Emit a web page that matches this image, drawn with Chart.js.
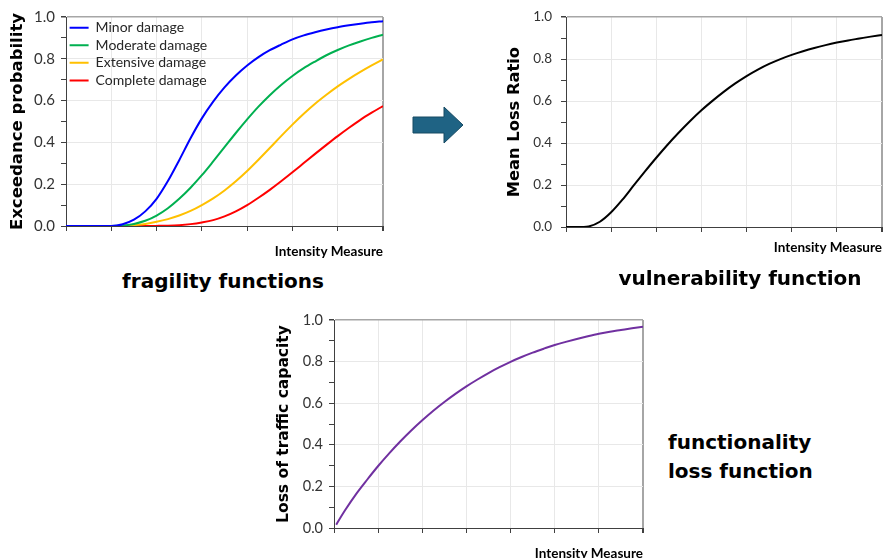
<!DOCTYPE html>
<html>
<head>
<meta charset="utf-8">
<script src="https://cdn.jsdelivr.net/npm/chart.js@4.4.0/dist/chart.umd.min.js"></script>
<style>
    body { margin: 0; width: 885px; height: 558px; overflow: hidden; background: #fff; position: relative; }
    canvas { position: absolute; }
    .cap { position: absolute; font: bold 20px "DejaVu Sans"; color: #000; white-space: nowrap; line-height: 29px; }
</style>
</head>
<body>
<canvas id="chart_1" width="400" height="265" style="left:0;top:0"></canvas>
<canvas id="chart_2" width="405" height="265" style="left:480px;top:0"></canvas>
<canvas id="chart_3" width="400" height="272" style="left:260px;top:300px"></canvas>

<svg style="position:absolute;left:410px;top:104px" width="56" height="42">
    <polygon points="3,13 34,13 34,3 53,21 34,39 34,29 3,29" fill="#1F6384" stroke="#174A63" stroke-width="1"/>
</svg>

<div class="cap" style="left:223px;top:267px;transform:translateX(-50%)">fragility functions</div>
<div class="cap" style="left:740px;top:264px;transform:translateX(-50%)">vulnerability function</div>
<div class="cap" style="left:668px;top:428px">functionality<br>loss function</div>

<script>
// Dados
const imSteps = [0, 0.25, 0.5, 0.75, 1, 1.25, 1.5, 1.75, 2, 2.25, 2.5, 2.75, 3, 3.25, 3.5, 3.75,
    4, 4.25, 4.5, 4.75, 5, 5.25, 5.5, 5.75, 6, 6.25, 6.5, 6.75, 7];

const minorDamage = [0, 0, 0, 0, 0, 0.008, 0.03, 0.07, 0.13, 0.215, 0.315, 0.42, 0.515, 0.595, 0.663, 0.72,
    0.768, 0.808, 0.841, 0.868, 0.893, 0.912, 0.927, 0.94, 0.951, 0.96, 0.968, 0.975, 0.98];
const moderateDamage = [0, 0, 0, 0, 0, 0.002, 0.01, 0.025, 0.05, 0.085, 0.13, 0.183, 0.243, 0.309, 0.377, 0.445,
    0.51, 0.571, 0.626, 0.675, 0.718, 0.755, 0.787, 0.817, 0.842, 0.864, 0.883, 0.9, 0.915];
const extensiveDamage = [0, 0, 0, 0, 0, 0.001, 0.004, 0.01, 0.02, 0.033, 0.05, 0.072, 0.1, 0.132, 0.17, 0.214,
    0.263, 0.317, 0.373, 0.43, 0.485, 0.537, 0.585, 0.628, 0.668, 0.704, 0.737, 0.768, 0.797];
const completeDamage = [0, 0, 0, 0, 0, 0, 0, 0, 0.0005, 0.0015, 0.004, 0.009, 0.017, 0.028, 0.046, 0.07,
    0.1, 0.135, 0.173, 0.214, 0.257, 0.301, 0.345, 0.388, 0.43, 0.47, 0.508, 0.542, 0.574];

const meanLossRatio = [0, 0, 0.003, 0.025, 0.07, 0.13, 0.198, 0.265, 0.33, 0.392, 0.45, 0.505, 0.556, 0.602, 0.645, 0.684,
    0.719, 0.75, 0.777, 0.8, 0.82, 0.8375, 0.853, 0.8665, 0.8785, 0.889, 0.898, 0.907, 0.915];

const funcIM = [0.05, 0.25, 0.5, 0.75, 1, 1.25, 1.5, 1.75, 2, 2.25, 2.5, 2.75, 3, 3.25, 3.5, 3.75,
    4, 4.25, 4.5, 4.75, 5, 5.25, 5.5, 5.75, 6, 6.25, 6.5, 6.75, 7];
const trafficLoss = [0.016, 0.085, 0.163, 0.232, 0.298, 0.359, 0.416, 0.469, 0.518, 0.564, 0.606, 0.645, 0.681, 0.714, 0.745, 0.773,
    0.799, 0.822, 0.843, 0.862, 0.88, 0.895, 0.909, 0.922, 0.934, 0.944, 0.952, 0.96, 0.967];

const yTicks = [0, 0.1, 0.2, 0.3, 0.4, 0.5, 0.6, 0.7, 0.8, 0.9, 1.0];
const xTicks = [0, 1, 2, 3, 4, 5, 6, 7];

function pts(xs, ys) {
    return xs.map((x, i) => ({ x: x, y: ys[i] }));
}

function serie(label, xs, ys, cor) {
    return {
        label: label,
        data: pts(xs, ys),
        borderColor: cor,
        backgroundColor: cor,
        borderWidth: 2,
        pointRadius: 0,
        cubicInterpolationMode: 'monotone'
    };
}

// escalas comuns aos três gráficos
function escalas(o) {
    return {
        x: {
            type: 'linear',
            min: xTicks[0],
            max: xTicks[xTicks.length - 1],
            afterBuildTicks: (s) => { s.ticks = xTicks.map(v => ({ value: v })); },
            ticks: { callback: () => '' },
            grid: {
                color: (c) => c.tick.value === 7 ? '#a6a6a6' : '#e8e8e8',
                lineWidth: (c) => c.tick.value === 7 ? 2 : 1,
                tickColor: '#404040',
                tickLength: 5
            },
            border: { color: '#404040', width: 1 },
            title: {
                display: true,
                text: 'Intensity Measure',
                align: 'end',
                color: '#000',
                font: { family: 'Lato', weight: 'bold', size: 13.5 },
                padding: { top: 0, bottom: o.xTitlePad }
            },
            afterFit: (s) => { s.height = o.xHeight; }
        },
        y: {
            min: 0,
            max: 1,
            afterBuildTicks: (s) => { s.ticks = yTicks.map(v => ({ value: v })); },
            ticks: {
                autoSkip: false,
                color: '#333',
                padding: o.tickPad,
                font: { family: 'Lato', size: o.tickSize },
                callback: (v) => Math.round(v * 10) % 2 === 0 ? v.toFixed(1) : ''
            },
            grid: {
                color: (c) => c.tick.value >= 0.999 ? '#a6a6a6' : (Math.round(c.tick.value * 10) % 2 === 0 ? '#e8e8e8' : 'rgba(0,0,0,0)'),
                lineWidth: (c) => c.tick.value >= 0.999 ? 1.5 : 1,
                tickColor: '#404040',
                tickLength: 5
            },
            border: { color: '#404040', width: 1 },
            title: {
                display: true,
                text: o.yTitle,
                color: '#000',
                font: { family: 'DejaVu Sans', weight: 'bold', size: o.yTitleSize },
                padding: { top: o.yTitlePad, bottom: 0 }
            },
            afterFit: (s) => { s.width = o.yWidth; }
        }
    };
}

// Gráfico 1 - fragility functions
const chart1 = new Chart(document.getElementById('chart_1').getContext('2d'), {
    type: 'line',
    data: {
        datasets: [
            serie('Minor damage', imSteps, minorDamage, '#0000FF'),
            serie('Moderate damage', imSteps, moderateDamage, '#00B050'),
            serie('Extensive damage', imSteps, extensiveDamage, '#FFC000'),
            serie('Complete damage', imSteps, completeDamage, '#FF0000')
        ]
    },
    options: {
        responsive: false,
        animation: false,
        layout: { padding: { top: 17, right: 17, left: 0, bottom: 0 } },
        plugins: {
            legend: {
                position: 'chartArea',
                align: 'start',
                // título vazio só para descer a legenda até o topo da área do gráfico
                title: { display: true, text: '', padding: 0, font: { size: 14.2 } },
                labels: {
                    boxWidth: 19,
                    boxHeight: 0,
                    padding: 3.6,
                    color: '#262626',
                    font: { family: 'Lato', size: 14 }
                }
            },
            tooltip: { enabled: false }
        },
        scales: escalas({
            xHeight: 39, xTitlePad: 4.8, yWidth: 66, tickPad: 6, tickSize: 15,
            yTitle: 'Exceedance probability', yTitleSize: 16.5, yTitlePad: 8
        })
    }
});

// Gráfico 2 - vulnerability function
const chart2 = new Chart(document.getElementById('chart_2').getContext('2d'), {
    type: 'line',
    data: {
        datasets: [serie('Mean Loss Ratio', imSteps, meanLossRatio, '#000000')]
    },
    options: {
        responsive: false,
        animation: false,
        layout: { padding: { top: 17, right: 0, left: 0, bottom: 0 } },
        plugins: { legend: { display: false }, tooltip: { enabled: false } },
        scales: escalas({
            xHeight: 38, xTitlePad: 8.8, yWidth: 86, tickPad: 9, tickSize: 13.5,
            yTitle: 'Mean Loss Ratio', yTitleSize: 16.3, yTitlePad: 25
        })
    }
});

// Gráfico 3 - functionality loss function
const chart3 = new Chart(document.getElementById('chart_3').getContext('2d'), {
    type: 'line',
    data: {
        datasets: [serie('Loss of traffic capacity', funcIM, trafficLoss, '#7030A0')]
    },
    options: {
        responsive: false,
        animation: false,
        layout: { padding: { top: 20, right: 17, left: 0, bottom: 0 } },
        plugins: { legend: { display: false }, tooltip: { enabled: false } },
        scales: escalas({
            xHeight: 44, xTitlePad: 9.8, yWidth: 74, tickPad: 6, tickSize: 14.5,
            yTitle: 'Loss of traffic capacity', yTitleSize: 15.5, yTitlePad: 15
        })
    }
});
</script>
</body>
</html>
